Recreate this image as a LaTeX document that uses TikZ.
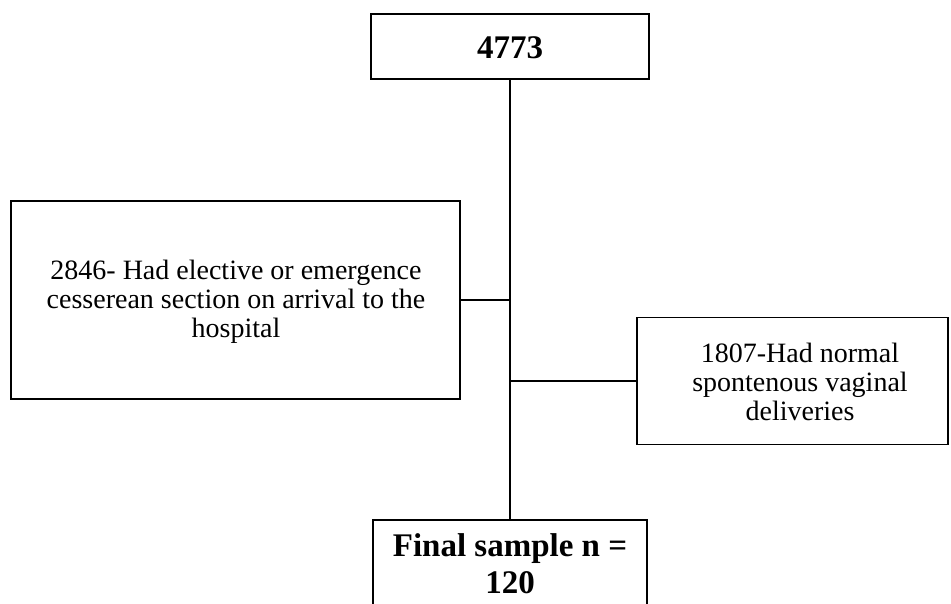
\documentclass[tikz,border=0pt]{standalone}
\usepackage{fontspec}
\setmainfont{Liberation Serif}
\begin{document}
\begin{tikzpicture}[x=1pt,y=-1pt,
  box/.style={draw=black,line width=1.3pt,inner sep=0pt,align=center,fill=white},
  conn/.style={draw=black,line width=1.5pt},
  bigtxt/.style={font=\fontsize{33}{37}\selectfont\bfseries,anchor=base,align=center,inner sep=0pt},
  smalltxt/.style={font=\fontsize{28}{28.8}\selectfont,anchor=base,align=center,inner sep=0pt}]
\clip (0,0) rectangle (951,603);
\fill[white] (0,0) rectangle (951,603);
\node[box,minimum width=278pt,minimum height=65pt] (top) at (510,46.5) {};
\node[bigtxt] (toptxt) at (510,58) {4773};
\node[box,minimum width=449pt,minimum height=198pt] (left) at (235.5,300) {};
\node[smalltxt] (lefttxt) at (236,337) {2846- Had elective or emergence\\cesserean section on arrival to the\\hospital};
\node[box,minimum width=311pt,minimum height=127pt] (right) at (792.5,381) {};
\node[smalltxt] (righttxt) at (800,420) {1807-Had normal\\spontenous vaginal\\deliveries};
\node[box,minimum width=274pt,minimum height=120pt] (bot) at (510,580) {};
\node[bigtxt] (bottxt) at (510,593) {Final sample n =\\120};
\draw[conn] (top.south) -- (bot.north);
\draw[conn] (left.east) -- (left.east -| top.south);
\draw[conn] (right.west) -- (right.west -| top.south);
\end{tikzpicture}
\end{document}
